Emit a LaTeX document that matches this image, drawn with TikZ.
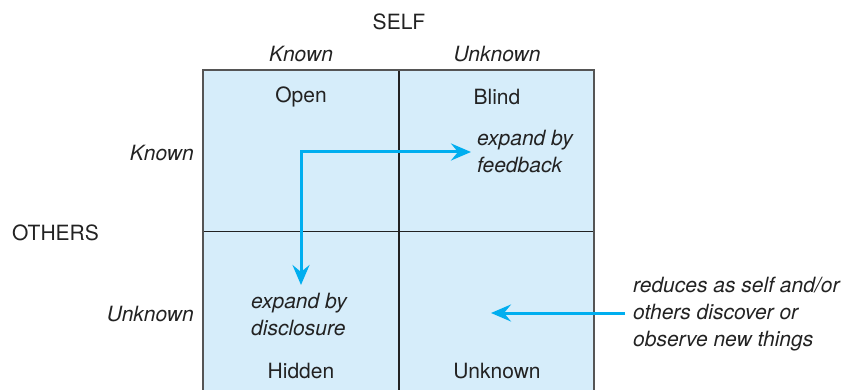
\documentclass[tikz,border=0pt]{standalone}
\usepackage{fontspec}
\setmainfont{TeX Gyre Heros}
\usetikzlibrary{arrows.meta}
\definecolor{cellfill}{HTML}{D6EDFA}
\definecolor{arrowcyan}{HTML}{00AEEF}
\definecolor{outerline}{HTML}{555555}
\definecolor{innerline}{HTML}{222222}
\tikzset{
  lbl/.style={inner sep=0pt, font=\fontsize{21}{27}\selectfont, text=innerline},
  ilbl/.style={lbl, font=\fontsize{21}{27}\selectfont\itshape},
  para/.style={ilbl, align=left, anchor=west},
  flow/.style={draw=arrowcyan, line width=3pt, -{Stealth[length=20pt,width=17pt,inset=7pt]}},
  flowboth/.style={draw=arrowcyan, line width=3pt, {Stealth[length=20pt,width=17pt,inset=7pt]}-{Stealth[length=20pt,width=17pt,inset=7pt]}},
}
\begin{document}
\begin{tikzpicture}[x=1pt,y=-1pt]
\useasboundingbox (0,0) rectangle (850,390);
% grid
\fill[cellfill] (203,70) rectangle (594,392);
\draw[innerline, line width=1.6pt] (399,70) -- (399,392);
\draw[innerline, line width=1.6pt] (203,231.5) -- (594,231.5);
\draw[outerline, line width=1.8pt] (203,392) -- (203,70) -- (594,70) -- (594,392);
% headings
\node[lbl] (self) at (399,22) {SELF};
\node[ilbl] (sknown) at (301,54) {Known};
\node[ilbl] (sunknown) at (497,54) {Unknown};
\node[lbl, anchor=west] (others) at (12,233) {OTHERS};
\node[ilbl, anchor=east] (oknown) at (194,153) {Known};
\node[ilbl, anchor=east] (ounknown) at (194,314) {Unknown};
% quadrant names
\node[lbl] (open) at (301,97) {Open};
\node[lbl] (blind) at (497,97) {Blind};
\node[lbl] (hidden) at (301,371) {Hidden};
\node[lbl] (unknown) at (497,371) {Unknown};
% annotations
\node[para] (feedback) at (477,151.5) {expand by\\feedback};
\node[para] (disclosure) at (251,314) {expand by\\disclosure};
\node[para] (reduces) at (633,314) {reduces as self and/or\\others discover or\\observe new things};
% arrows
\coordinate (corner) at (301,152);
\coordinate (fbtip) at (471,152);
\coordinate (dstip) at (301,285);
\coordinate (unkstart) at (625,313);
\coordinate (unktip) at (491,313);
\draw[flowboth] (fbtip) -- (corner) -- (dstip);
\draw[flow] (unkstart) -- (unktip);
\end{tikzpicture}
\end{document}
